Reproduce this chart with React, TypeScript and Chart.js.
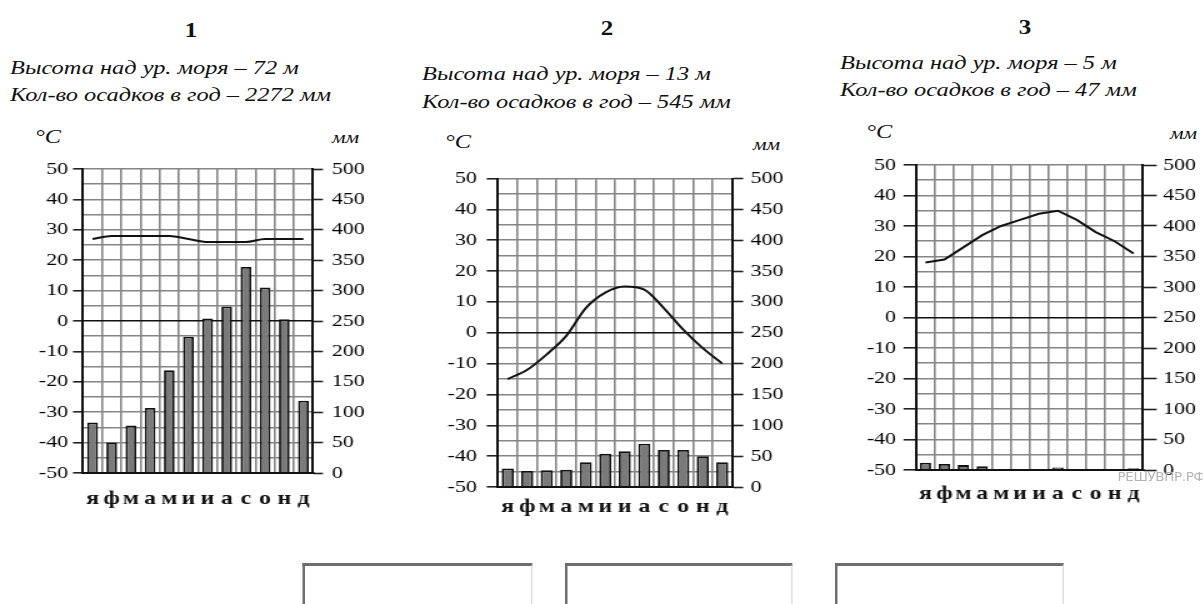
import React, { useEffect, useRef } from 'react';
import { Chart, registerables } from 'chart.js';

Chart.register(...registerables);

// ---------- data ----------
const MONTHS = ['я', 'ф', 'м', 'а', 'м', 'и', 'и', 'а', 'с', 'о', 'н', 'д'];

const TEMP_1 = [27, 28, 28, 28, 28, 27, 26, 26, 26, 27, 27, 27];
const PRECIP_1 = [83, 50, 78, 107, 169, 224, 254, 274, 339, 305, 253, 119];

const TEMP_2 = [-15, -12, -7, -1, 8, 13, 15, 14, 8, 1, -5, -10];
const PRECIP_2 = [30, 26, 27, 28, 40, 54, 58, 70, 60, 60, 50, 40];

const TEMP_3 = [18, 19, 23, 27, 30, 32, 34, 35, 32, 28, 25, 21];
const PRECIP_3 = [12, 10, 8, 6, 0.5, 0.5, 0.5, 4, 0.5, 0.5, 0.5, 3];

const TEMP_MIN = -50;
const TEMP_MAX = 50;
const TEMP_GRID_STEP = 5;
const TEMP_LABEL_STEP = 10;
const PRECIP_MIN = 0;
const PRECIP_MAX = 500;
const PRECIP_STEP = 50;

const TITLES = ['1', '2', '3'];
const ELEVATIONS = ['Высота над ур. моря – 72 м', 'Высота над ур. моря – 13 м', 'Высота над ур. моря – 5 м'];
const ANNUAL = ['Кол-во осадков в год – 2272 мм', 'Кол-во осадков в год – 545 мм', 'Кол-во осадков в год – 47 мм'];
const UNIT_LEFT = '°C';
const UNIT_RIGHT = 'мм';
const WATERMARK = 'РЕШУВПР.РФ';

// ---------- style ----------
const S = 1.25; // horizontal stretch of the whole picture
const SERIF = "'Liberation Serif', 'Times New Roman', serif";
const GRID = '#858585';
const INK = '#111';

type Geo = {
  left: number; top: number; width: number; height: number;
  padTop: number; yW: number; y2W: number; xH: number;
  yTick: number; yPad: number; y2Tick: number; y2Pad: number; xPad: number; bar: number;
};

const GEOS: Geo[] = [
  { left: 20, top: 150, width: 280, height: 368, padTop: 19, yW: 46.4, y2W: 49.6, xH: 45, yTick: 8, yPad: 4, y2Tick: 8, y2Pad: 7, xPad: 15, bar: 0.56 },
  { left: 350, top: 160, width: 290, height: 372, padTop: 17, yW: 48.4, y2W: 54.4, xH: 45, yTick: 9, yPad: 8, y2Tick: 9, y2Pad: 6, xPad: 9, bar: 0.62 },
  { left: 690, top: 145, width: 272, height: 370, padTop: 20, yW: 42.8, y2W: 47.6, xH: 45, yTick: 10, yPad: 6, y2Tick: 11, y2Pad: 5, xPad: 13, bar: 0.6 },
];

function ClimateChart({ temps, precip, g, smooth }: { temps: number[]; precip: number[]; g: Geo; smooth: boolean }) {
  const ref = useRef<HTMLCanvasElement>(null);
  useEffect(() => {
    let alive = true;
    const chart = new Chart(ref.current as HTMLCanvasElement, {
      data: {
        labels: MONTHS,
        datasets: [
          {
            type: 'line',
            data: temps,
            yAxisID: 'y',
            borderColor: INK,
            borderWidth: 2,
            pointRadius: 0,
            tension: smooth ? 0.4 : 0,
            cubicInterpolationMode: smooth ? 'monotone' : 'default',
            order: 0,
          } as any,
          {
            type: 'bar',
            data: precip,
            yAxisID: 'y2',
            backgroundColor: '#7a7a7a',
            borderColor: '#111',
            borderWidth: 1.8,
            barPercentage: g.bar,
            categoryPercentage: 1,
            order: 1,
          } as any,
        ],
      },
      options: {
        animation: false,
        responsive: true,
        maintainAspectRatio: false,
        events: [],
        layout: { padding: { top: g.padTop, left: 0, right: 0, bottom: 0 } },
        plugins: { legend: { display: false }, tooltip: { enabled: false }, title: { display: false } },
        scales: {
          x: {
            type: 'category',
            offset: true,
            grid: {
              offset: true,
              drawTicks: false,
              lineWidth: 1.6,
              color: (c: any) => (c.index === undefined || c.index === 0 ? 'rgba(0,0,0,0)' : GRID),
            },
            border: { color: INK, width: 2, z: 1 },
            ticks: {
              autoSkip: false,
              maxRotation: 0,
              padding: g.xPad,
              color: INK,
              font: { family: SERIF, size: 19, weight: 'bold' },
            },
            afterFit: (s: any) => { s.height = g.xH; },
          },
          y: {
            type: 'linear',
            position: 'left',
            min: TEMP_MIN,
            max: TEMP_MAX,
            ticks: {
              stepSize: TEMP_GRID_STEP,
              autoSkip: false,
              padding: g.yPad,
              color: '#000',
              font: { family: SERIF, size: 17.5 },
              callback: (v: any) => (Math.round(Number(v)) % TEMP_LABEL_STEP === 0 ? String(Math.round(Number(v))) : ''),
            },
            grid: {
              lineWidth: 1.6,
              color: (c: any) => (c.tick && (c.tick.value === 0 || c.tick.value === TEMP_MIN) ? INK : GRID),
              tickLength: g.yTick,
              tickWidth: 1.6,
              tickColor: (c: any) => (c.tick && Math.round(c.tick.value) % TEMP_LABEL_STEP === 0 ? '#222' : 'rgba(0,0,0,0)'),
            },
            border: { color: INK, width: 2 },
            afterFit: (s: any) => { s.width = g.yW; },
          },
          y2: {
            type: 'linear',
            position: 'right',
            min: PRECIP_MIN,
            max: PRECIP_MAX,
            ticks: {
              stepSize: PRECIP_STEP,
              autoSkip: false,
              padding: g.y2Pad,
              color: '#000',
              font: { family: SERIF, size: 17.5 },
            },
            grid: { drawOnChartArea: false, tickLength: g.y2Tick, tickWidth: 1.6, tickColor: '#222' },
            border: { color: INK, width: 2 },
            afterFit: (s: any) => { s.width = g.y2W; },
          },
        },
      } as any,
    });
    const fonts = (document as any).fonts;
    if (fonts && fonts.load) {
      Promise.all([
        fonts.load('17px "Liberation Serif"', '0123456789'),
        fonts.load('bold 19px "Liberation Serif"', 'яфмаисонд'),
      ]).then(() => { if (alive) chart.update(); }).catch(() => {});
    }
    return () => { alive = false; chart.destroy(); };
  }, []);
  return (
    <div style={{ position: 'absolute', left: g.left, top: g.top, width: g.width, height: g.height }}>
      <canvas ref={ref} />
    </div>
  );
}

function Txt({ x, cy, lh, style, children }: { x: number; cy: number; lh: number; style?: React.CSSProperties; children: React.ReactNode }) {
  return (
    <div style={{ position: 'absolute', left: x, top: cy - lh / 2, lineHeight: `${lh}px`, whiteSpace: 'nowrap', ...style }}>
      {children}
    </div>
  );
}

const TITLE_POS = [[152.8, 30], [485.6, 28], [820, 27]];
const SUB_POS = [[8, 68, 95], [337.6, 74, 102], [672, 63, 90]];
const DEG_POS = [[28, 137], [356, 142], [693, 132]];
const MM_POS = [[265.6, 138], [602.4, 145], [936, 134]];
const BOXES = [[242.4, 184], [452, 182.4], [668, 183.2]];

export default function App() {
  const temps = [TEMP_1, TEMP_2, TEMP_3];
  const precs = [PRECIP_1, PRECIP_2, PRECIP_3];
  const italic: React.CSSProperties = { fontStyle: 'italic', fontSize: 19.5 };
  return (
    <div
      style={{
        position: 'absolute', left: 0, top: 0, width: 1203 / S, height: 604, overflow: 'hidden',
        transform: `scaleX(${S})`, transformOrigin: '0 0', fontFamily: SERIF, color: INK, background: '#fff',
      }}
    >
      {TITLES.map((t, i) => (
        <Txt key={'t' + i} x={TITLE_POS[i][0] - 20} cy={TITLE_POS[i][1]} lh={24} style={{ width: 40, textAlign: 'center', fontWeight: 'bold', fontSize: 20 }}>{t}</Txt>
      ))}
      {ELEVATIONS.map((t, i) => (
        <Txt key={'e' + i} x={SUB_POS[i][0]} cy={SUB_POS[i][1]} lh={24} style={italic}>{t}</Txt>
      ))}
      {ANNUAL.map((t, i) => (
        <Txt key={'a' + i} x={SUB_POS[i][0]} cy={SUB_POS[i][2]} lh={24} style={italic}>{t}</Txt>
      ))}
      {DEG_POS.map((p, i) => (
        <Txt key={'d' + i} x={p[0]} cy={p[1]} lh={24} style={italic}>{UNIT_LEFT}</Txt>
      ))}
      {MM_POS.map((p, i) => (
        <Txt key={'m' + i} x={p[0]} cy={p[1]} lh={22} style={{ fontStyle: 'italic', fontSize: 17 }}>{UNIT_RIGHT}</Txt>
      ))}
      {GEOS.map((g, i) => (
        <ClimateChart key={'c' + i} temps={temps[i]} precip={precs[i]} g={g} smooth={i !== 2} />
      ))}
      <Txt x={894} cy={477} lh={16} style={{ fontFamily: "'Liberation Sans Narrow', 'DejaVu Sans Condensed', sans-serif", fontSize: 12, letterSpacing: '-0.3px', color: '#b4b4b4' }}>{WATERMARK}</Txt>
      {BOXES.map((b, i) => (
        <div key={'b' + i} style={{ position: 'absolute', left: b[0], top: 563, width: b[1], height: 60, boxSizing: 'border-box', borderTop: '3px solid #6e6e6e', borderLeft: '2.5px solid #6e6e6e', borderRight: '1px solid #d8d8d8' }} />
      ))}
    </div>
  );
}
